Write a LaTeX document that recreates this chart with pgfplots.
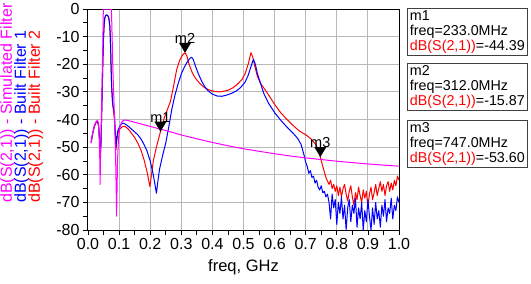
\documentclass[border=0pt]{standalone}
\usepackage{pgfplots}
\pgfplotsset{compat=1.18}
\usepackage{fontspec}
\setmainfont{Liberation Sans}
\definecolor{simcol}{RGB}{255,0,255}
\definecolor{b1col}{RGB}{0,0,255}
\definecolor{b2col}{RGB}{255,0,0}
\definecolor{gridcol}{RGB}{185,185,185}

% downward triangle whose tip sits on the data point
\pgfdeclareplotmark{dtri}{%
  \pgfpathmoveto{\pgfqpoint{0pt}{0pt}}%
  \pgfpathlineto{\pgfqpoint{-6pt}{10pt}}%
  \pgfpathlineto{\pgfqpoint{6pt}{10pt}}%
  \pgfpathclose\pgfusepathqfill}

\begin{document}
\begin{tikzpicture}
\useasboundingbox (-88pt,-54pt) rectangle (443pt,230pt);
\begin{axis}[
  scale only axis, width=311pt, height=221pt,
  xmin=0, xmax=1, ymin=-80, ymax=0,
  xtick={0,0.1,...,1.0}, ytick={-80,-70,...,0},
  minor x tick num=1, minor y tick num=1,
  xtick pos=bottom, ytick pos=left, tick align=outside,
  major tick length=5pt, minor tick length=5pt,
  every tick/.style={black, line width=0.8pt},
  grid=major, major grid style={gridcol, line width=1pt},
  axis line style={black, line width=1pt},
  /pgf/number format/assume math mode=true,
  every tick label/.append style={font=\fontsize{16}{18}\selectfont},
  xticklabel style={/pgf/number format/.cd, fixed, fixed zerofill, precision=1},
  yticklabel style={/pgf/number format/.cd, fixed, precision=0},
  xlabel={freq, GHz}, xlabel style={font=\fontsize{16.5}{18}\selectfont, yshift=-3pt},
  every axis plot/.append style={line width=1pt, line join=round},
]
% Built Filter 2
\addplot[b2col] coordinates {
(0.010,-48.5)(0.015,-45.2)(0.020,-42.8)(0.025,-41.2)(0.030,-40.6)(0.034,-42.2)
(0.037,-47)(0.040,-52)(0.042,-48)(0.044,-38)(0.046,-28)(0.048,-18)(0.050,-10)
(0.052,-5.5)(0.054,-3.3)(0.057,-2.4)(0.060,-2.2)(0.064,-2.5)(0.067,-3.3)
(0.070,-6)(0.072,-11)(0.074,-20)(0.076,-28)(0.079,-34)(0.082,-37)(0.085,-40)
(0.088,-46)(0.090,-51)(0.092,-48)(0.096,-45)(0.102,-43.5)(0.108,-42.8)
(0.114,-42.5)(0.120,-42.6)(0.130,-43.5)(0.140,-45)(0.150,-46.5)(0.160,-48.5)
(0.170,-51)(0.180,-54.5)(0.190,-59)(0.196,-62.5)(0.199,-64.3)(0.203,-61)
(0.210,-55)(0.220,-50)(0.233,-44.39)(0.245,-39.5)(0.255,-36.5)(0.265,-33.5)
(0.275,-28)(0.285,-22)(0.295,-18.5)(0.305,-16.5)(0.312,-15.87)(0.318,-17)
(0.325,-20)(0.335,-23)(0.345,-25)(0.360,-27)(0.375,-28.5)(0.390,-29.3)
(0.405,-29.8)(0.420,-30)(0.435,-29.8)(0.450,-29.4)(0.465,-28.6)(0.480,-27.3)
(0.495,-25.5)(0.505,-23.5)(0.515,-20)(0.524,-15.8)(0.530,-17.5)(0.537,-21)
(0.545,-24.5)(0.555,-27)(0.565,-28.5)(0.580,-31)(0.600,-34.5)(0.620,-37.6)
(0.640,-40)(0.660,-42.2)(0.680,-44.2)(0.700,-45.5)(0.720,-47.3)(0.735,-49.5)
(0.747,-53.6)(0.755,-57)(0.765,-61)(0.775,-63.5)(0.780,-62)(0.785,-65)
(0.790,-63.5)(0.795,-66)(0.800,-64)(0.805,-67.5)(0.810,-64.5)(0.815,-68)
(0.820,-65)(0.825,-63.5)(0.830,-67)(0.835,-69.5)(0.840,-66)(0.845,-64)
(0.850,-68)(0.855,-71)(0.860,-66.5)(0.865,-69)(0.870,-64.5)(0.875,-67.5)
(0.880,-70)(0.885,-65.5)(0.890,-68.5)(0.895,-66)(0.900,-71.5)(0.905,-67)
(0.910,-64.5)(0.915,-69)(0.920,-66.5)(0.925,-63.5)(0.930,-67.5)(0.935,-65)
(0.940,-62.5)(0.945,-66)(0.950,-63.5)(0.955,-67.5)(0.960,-64)(0.965,-62.5)
(0.970,-66)(0.975,-63)(0.980,-65.5)(0.985,-62)(0.990,-64)(0.995,-60.5)
(1.000,-62)
};
% Built Filter 1
\addplot[b1col] coordinates {
(0.010,-48)(0.015,-45)(0.020,-42.5)(0.025,-41)(0.030,-40.5)(0.034,-42)
(0.037,-47)(0.040,-52)(0.042,-48)(0.044,-38)(0.046,-28)(0.048,-18)(0.050,-10)
(0.052,-5.5)(0.054,-3.2)(0.057,-2.3)(0.060,-2.1)(0.064,-2.4)(0.067,-3.2)
(0.070,-6)(0.072,-11)(0.074,-20)(0.076,-28)(0.079,-34)(0.082,-36)(0.085,-38)
(0.088,-45)(0.090,-50)(0.092,-47)(0.096,-44)(0.102,-42.5)(0.108,-41.5)
(0.114,-41.3)(0.120,-41.7)(0.130,-42.5)(0.140,-43.5)(0.150,-44.5)(0.160,-45.5)
(0.170,-47)(0.180,-49)(0.190,-51.5)(0.200,-55)(0.210,-60)(0.216,-64)
(0.220,-66.7)(0.224,-63)(0.230,-58)(0.240,-53)(0.250,-48.5)(0.260,-42.5)
(0.270,-36)(0.280,-31)(0.290,-27)(0.300,-23.5)(0.310,-21)(0.320,-19)
(0.328,-17.8)(0.333,-17.5)(0.338,-18.2)(0.345,-20.5)(0.355,-23.5)(0.365,-26)
(0.375,-28)(0.385,-29.5)(0.400,-30.8)(0.415,-31.5)(0.430,-31.6)(0.445,-31.2)
(0.460,-30.6)(0.475,-29.8)(0.490,-28.5)(0.505,-26.5)(0.515,-24)(0.525,-20.5)
(0.532,-18.2)(0.538,-20)(0.545,-23.5)(0.555,-27)(0.565,-30.5)(0.580,-34)
(0.600,-37.5)(0.620,-40.3)(0.640,-42.8)(0.660,-45)(0.675,-47)(0.685,-49)
(0.695,-53)(0.700,-55.5)(0.705,-57)(0.710,-59.5)(0.715,-58.5)(0.720,-61)
(0.725,-60.5)(0.730,-63)(0.735,-62)(0.740,-64.5)(0.745,-65.5)(0.750,-64)
(0.755,-66.5)(0.760,-66)(0.765,-68)(0.770,-67)(0.775,-70)(0.780,-76)
(0.785,-67)(0.790,-72)(0.795,-69)(0.800,-78)(0.805,-70)(0.810,-74)
(0.815,-68)(0.820,-76)(0.825,-71)(0.830,-80)(0.835,-72)(0.840,-69)
(0.845,-77)(0.850,-71)(0.855,-74)(0.860,-68.5)(0.865,-79)(0.870,-72)
(0.875,-76)(0.880,-70)(0.885,-80)(0.890,-73)(0.895,-77)(0.900,-69)
(0.905,-75)(0.910,-80)(0.915,-72)(0.920,-78)(0.925,-70)(0.930,-76)
(0.935,-73)(0.940,-79)(0.945,-71)(0.950,-75)(0.955,-69)(0.960,-77)
(0.965,-72)(0.970,-74)(0.975,-68.5)(0.980,-76)(0.985,-71)(0.990,-73)
(0.995,-68)(1.000,-70)
};
% Simulated Filter
\addplot[simcol] coordinates {
(0.010,-48.5)(0.015,-45)(0.020,-42.5)(0.025,-41)(0.030,-40.3)(0.033,-41)
(0.036,-46)(0.038,-55)(0.039,-63.5)(0.040,-55)(0.042,-45)(0.044,-35)
(0.046,-22)(0.048,-10)(0.049,-2)(0.050,0)(0.075,0)(0.076,-3)(0.078,-12)
(0.080,-22)(0.083,-32)(0.086,-42)(0.089,-55)(0.091,-68)(0.092,-75)
(0.093,-68)(0.095,-55)(0.098,-47)(0.102,-43)(0.108,-41)(0.114,-40.3)
(0.120,-40.2)(0.130,-40.4)(0.150,-41)(0.200,-42.5)(0.250,-44)(0.300,-45.6)
(0.350,-47)(0.400,-48.3)(0.450,-49.5)(0.500,-50.6)(0.550,-51.5)(0.600,-52.4)
(0.650,-53.2)(0.700,-53.9)(0.750,-54.5)(0.800,-55.1)(0.850,-55.6)
(0.900,-56.1)(0.950,-56.5)(1.000,-56.9)
};
% markers
\addplot[only marks, mark=dtri, black, nodes near coords, point meta=explicit symbolic,
  every node near coord/.append style={anchor=south, yshift=8pt, inner sep=1pt,
  font=\fontsize{14.5}{16}\selectfont}]
  table[meta=lab] {
f     v       lab
0.233 -44.39  m1
0.312 -15.87  m2
0.747 -53.60  m3
};
\end{axis}
% axis title, one line per trace
\begin{scope}[every node/.style={rotate=90, anchor=base west, inner sep=0pt,
    font=\fontsize{16}{18}\selectfont}]
\node[text=simcol] at (-76pt,27pt) {dB(S(2,1)) - Simulated Filter};
\node[text=b1col] at (-62pt,27pt) {dB(S(2,1)) - Built Filter 1};
\node[text=b2col] at (-48pt,27pt) {dB(S(2,1)) - Built Filter 2};
\end{scope}
% marker readouts
\begin{scope}[every node/.style={draw=black!75, line width=0.8pt, anchor=north west,
    minimum width=120pt, minimum height=47pt, align=left, inner sep=1.5pt,
    font=\fontsize{14.3}{15}\selectfont}]
\node at (319pt,222pt) {m1\\freq=233.0MHz\\\textcolor{b2col}{dB(S(2,1))}=-44.39};
\node at (319pt,167pt) {m2\\freq=312.0MHz\\\textcolor{b2col}{dB(S(2,1))}=-15.87};
\node at (319pt,110pt) {m3\\freq=747.0MHz\\\textcolor{b2col}{dB(S(2,1))}=-53.60};
\end{scope}
\end{tikzpicture}
\end{document}
